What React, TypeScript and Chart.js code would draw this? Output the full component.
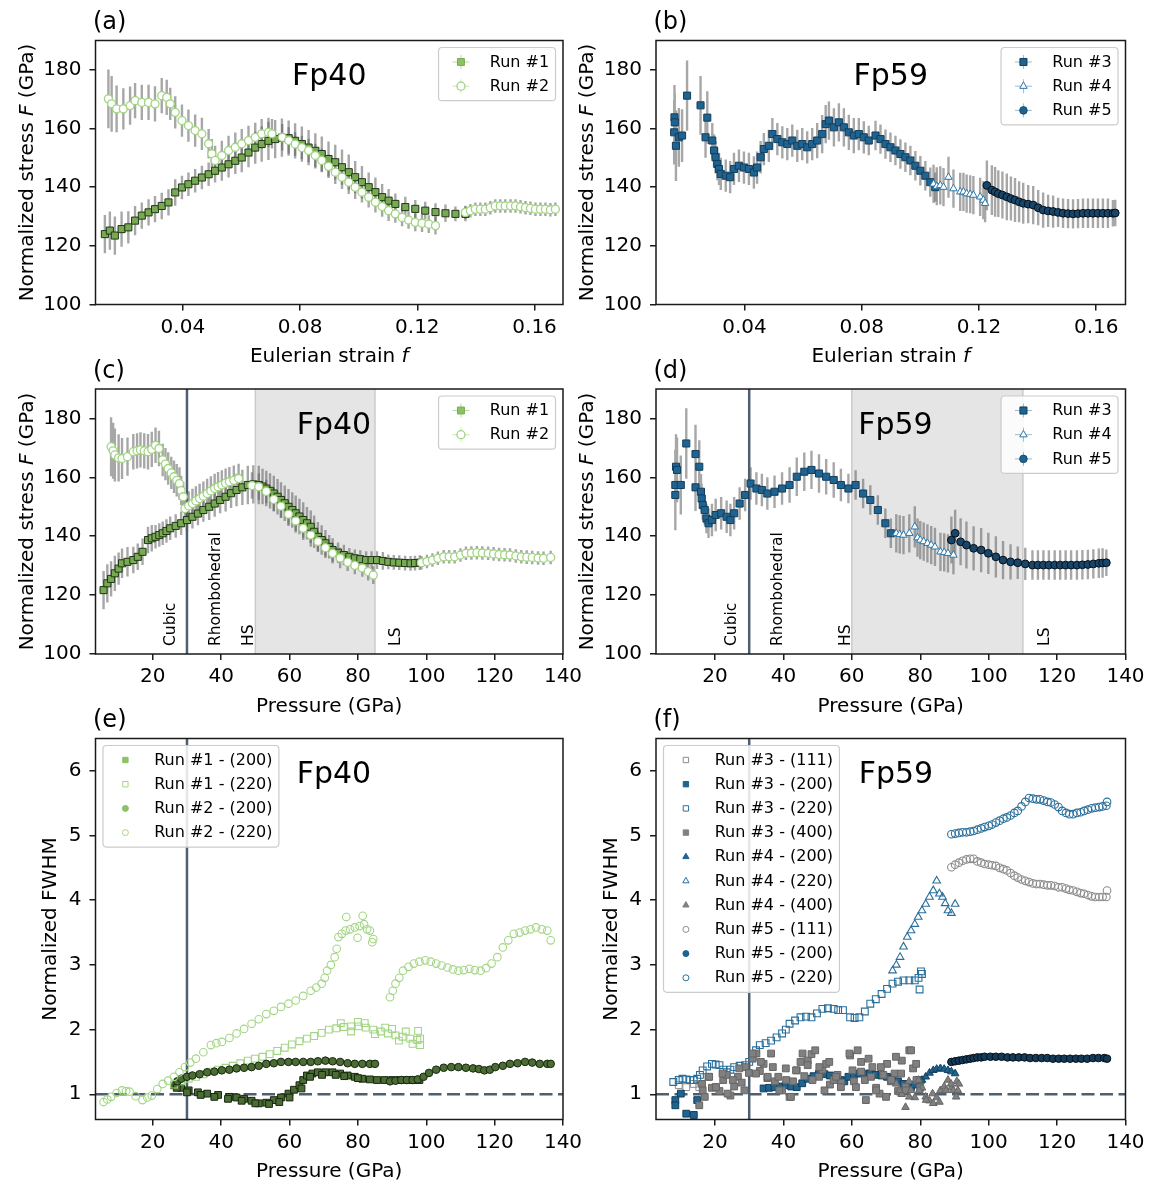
import React, { useEffect, useRef } from 'react';
import { Chart, registerables } from 'chart.js';

Chart.register(...registerables);

const W = 1153;
const H = 1184;
const FAM = "'DejaVu Sans', 'Liberation Sans', Arial, sans-serif";

// ---------------- tick values ----------------
const STRAIN_TICKS = [0.04, 0.08, 0.12, 0.16];
const PRESSURE_TICKS = [20, 40, 60, 80, 100, 120, 140];
const STRESS_TICKS = [100, 120, 140, 160, 180];
const FWHM_TICKS = [1, 2, 3, 4, 5, 6];

// ---------------- annotations ----------------
const CUBIC_RHOMB_P = 30; // GPa
const SPIN_FP40: [number, number] = [50, 85];
const SPIN_FP59: [number, number] = [60, 110];
const PHASES_FP40: [string, number][] = [['Cubic', 26.5], ['Rhombohedral', 39.7], ['HS', 49.3], ['LS', 92.3]];
const PHASES_FP59: [string, number][] = [['Cubic', 26.1], ['Rhombohedral', 39.6], ['HS', 59.5], ['LS', 117.6]];

// ---------------- (a) Fp40: stress vs Eulerian strain [f, F, err] ----------------
const A_RUN1: number[][] = [
  [0.0134, 124.0, 6.5], [0.0151, 125.2, 6.5], [0.0168, 123.5, 6.5], [0.0191, 125.7, 6], [0.0214, 126.3, 5.5],
  [0.0237, 128.6, 5], [0.026, 130.3, 4.5], [0.0283, 131.4, 4.5], [0.0305, 132.5, 4.5], [0.0328, 133.6, 4.5],
  [0.0351, 134.8, 4.5], [0.0374, 138.2, 4.5], [0.0397, 139.9, 4], [0.0419, 141.0, 4], [0.0442, 142.2, 4],
  [0.0465, 143.3, 4], [0.0488, 144.4, 4], [0.051, 145.6, 4], [0.0533, 146.7, 4.5], [0.0556, 147.8, 4.5],
  [0.0579, 149.0, 4.5], [0.0601, 150.1, 5], [0.0624, 151.8, 5], [0.0647, 153.5, 5.5], [0.0669, 154.7, 6],
  [0.0692, 155.8, 6.5], [0.0715, 156.4, 6.5], [0.0738, 156.9, 6.5], [0.0761, 156.7, 6], [0.0783, 155.8, 6],
  [0.0806, 154.7, 6], [0.0829, 153.5, 6], [0.0852, 152.4, 6], [0.0874, 151.3, 6], [0.0897, 149.6, 6],
  [0.092, 148.5, 6], [0.0943, 146.8, 6], [0.0966, 145.1, 6], [0.0988, 143.4, 5.5], [0.1011, 141.7, 5.5],
  [0.1034, 140.0, 5], [0.1057, 138.3, 5], [0.108, 136.6, 4.5], [0.1102, 135.4, 4], [0.1125, 134.3, 3.5],
  [0.1159, 133.2, 3.5], [0.1193, 132.6, 3], [0.1227, 132.0, 3], [0.1262, 131.5, 3], [0.1296, 131.1, 3],
  [0.133, 130.9, 2.5], [0.1364, 130.9, 2.5],
];
const A_RUN2: number[][] = [
  [0.0146, 170.1, 10], [0.0157, 168.4, 9.5], [0.0174, 166.7, 8], [0.0197, 166.7, 7], [0.022, 167.8, 6.5],
  [0.0237, 169.5, 6], [0.026, 168.9, 6], [0.0283, 168.9, 6], [0.0305, 168.4, 6], [0.0328, 171.2, 6],
  [0.0345, 170.6, 6], [0.0357, 168.4, 5.5], [0.0374, 165.5, 5.5], [0.0397, 162.7, 5.5], [0.0419, 161.0, 5.5],
  [0.0442, 159.3, 5.5], [0.0465, 158.2, 5.5], [0.0488, 154.8, 5], [0.0499, 151.4, 5], [0.051, 149.1, 5],
  [0.0533, 150.8, 5], [0.0556, 152.5, 5], [0.0579, 153.6, 5], [0.0601, 154.8, 5], [0.0624, 155.9, 5],
  [0.0647, 157.0, 5], [0.0669, 158.2, 5], [0.0692, 158.7, 5], [0.0704, 158.2, 5], [0.0739, 157.0, 4.5],
  [0.0761, 155.9, 4.5], [0.0783, 154.7, 4], [0.0806, 153.5, 4], [0.0829, 152.5, 4], [0.0852, 150.8, 4],
  [0.0874, 149.1, 4], [0.0897, 147.1, 4], [0.092, 145.1, 4], [0.0943, 143.4, 4], [0.0966, 141.7, 4],
  [0.0988, 140.0, 4], [0.1011, 138.3, 3.5], [0.1034, 136.6, 3.5], [0.1057, 134.9, 3.5], [0.108, 133.4, 3.5],
  [0.1102, 132.0, 3.5], [0.1125, 130.9, 3], [0.1148, 129.7, 3], [0.117, 128.8, 3], [0.1193, 128.0, 3],
  [0.1216, 127.7, 3], [0.1239, 127.4, 3], [0.1262, 126.9, 3],
  [0.1364, 131.4, 2.3], [0.1381, 132.0, 2.3], [0.1398, 132.5, 2.3], [0.1415, 132.5, 2.3], [0.1432, 132.5, 2.3],
  [0.1449, 133.0, 2.3], [0.1466, 133.6, 2.3], [0.1483, 133.6, 2.3], [0.15, 133.6, 2.3], [0.1518, 133.6, 2.3],
  [0.1535, 133.6, 2.3], [0.1552, 133.3, 2.3], [0.1569, 133.0, 2.3], [0.1586, 132.8, 2.3], [0.1603, 132.5, 2.3],
  [0.162, 132.5, 2.3], [0.1637, 132.5, 2.3], [0.1654, 132.3, 2.3], [0.1671, 132.5, 2.3],
];

// ---------------- (b) Fp59: stress vs Eulerian strain [f, F, err] ----------------
const B_RUN3: number[][] = [
  [0.016, 158.7, 11], [0.0161, 163.8, 11], [0.0162, 162.1, 10], [0.0166, 154.1, 12], [0.0176, 157.0, 10],
  [0.0187, 157.6, 9], [0.0204, 171.2, 12], [0.025, 167.9, 10], [0.0267, 157.0, 7], [0.0273, 163.7, 9],
  [0.029, 155.9, 6], [0.0296, 152.5, 5.5], [0.0301, 150.2, 5.5], [0.0307, 147.9, 5.5], [0.0313, 146.2, 5.5],
  [0.0319, 144.5, 5.5], [0.0336, 143.9, 5.5], [0.0351, 143.4, 5.5], [0.0364, 146.2, 5.5], [0.0381, 147.3, 5.5],
  [0.0398, 146.7, 5.5], [0.0415, 146.2, 5.5], [0.0432, 145.0, 5.5], [0.0443, 146.7, 5.5], [0.0455, 150.2, 5.5],
  [0.0466, 153.0, 5.5], [0.0483, 154.1, 5.5], [0.0495, 158.1, 5.5], [0.0512, 156.4, 5.5], [0.0529, 155.3, 5.5],
  [0.0546, 154.7, 5.5], [0.0563, 155.9, 5.5], [0.058, 154.1, 5.5], [0.0597, 154.7, 5.5], [0.0614, 153.6, 5.5],
  [0.0631, 154.7, 5.5], [0.0648, 155.9, 6], [0.0665, 158.1, 6.5], [0.0677, 161.5, 6.5], [0.0688, 162.7, 6.5],
  [0.0705, 160.4, 6.5], [0.0722, 162.1, 6.5], [0.0739, 160.4, 6.5], [0.0756, 158.7, 6], [0.0773, 157.6, 6],
  [0.079, 158.1, 5.5], [0.0807, 157.0, 5.5], [0.0824, 155.9, 5], [0.0847, 157.6, 5], [0.0864, 156.4, 5],
  [0.0881, 154.7, 5], [0.0898, 153.6, 5], [0.0915, 152.5, 5], [0.0932, 151.3, 5], [0.0949, 150.2, 5],
  [0.0966, 149.1, 5], [0.0983, 147.3, 5], [0.1, 145.6, 5], [0.1017, 143.9, 5], [0.1034, 141.7, 5],
  [0.1051, 140.0, 5],
];
const B_RUN4: number[][] = [
  [0.1045, 141.1, 6.5], [0.1056, 140.3, 6.5], [0.1068, 140.6, 6.5], [0.1079, 140.0, 6.5], [0.1096, 143.4, 7],
  [0.1113, 139.5, 6.5], [0.1136, 138.4, 6.5], [0.1147, 138.4, 6.5], [0.1158, 137.8, 6.5], [0.117, 137.6, 6.5],
  [0.1181, 137.3, 6.5], [0.1204, 136.7, 6.5], [0.1215, 135.6, 6.5], [0.1221, 134.5, 6.5],
];
const B_RUN5: number[][] = [
  [0.1227, 140.6, 8.5], [0.1244, 139.0, 8.5], [0.1255, 138.4, 8.5], [0.1266, 137.8, 8], [0.128, 137.3, 8],
  [0.1295, 136.7, 8], [0.1309, 136.1, 7.5], [0.1323, 135.6, 7.5], [0.1337, 135.0, 7], [0.1351, 134.5, 7],
  [0.1368, 134.2, 6.5], [0.1385, 133.9, 6.5], [0.1402, 133.0, 6], [0.1419, 132.2, 6], [0.1436, 131.9, 5.5],
  [0.1453, 131.7, 5.5], [0.147, 131.4, 5], [0.1487, 131.1, 5], [0.1504, 131.0, 5], [0.1521, 130.9, 5],
  [0.1538, 131.0, 5], [0.1555, 131.1, 5], [0.1572, 131.1, 5], [0.1589, 131.1, 5], [0.1606, 131.1, 5],
  [0.1623, 131.1, 5], [0.164, 131.1, 5], [0.1657, 131.1, 4.5], [0.1665, 131.2, 4.5],
];

// ---------------- (c) Fp40: stress vs pressure [P, F, err] ----------------
const C_RUN1: number[][] = [
  [5.6, 121.7, 6.5], [6.7, 124, 6.5], [7.8, 125.5, 6], [8.9, 127.4, 6], [10, 129, 5.5], [11, 130.8, 5],
  [12.6, 131.3, 5], [14.3, 131.9, 4.5], [15.6, 133, 4.5], [17, 134.7, 4.5], [18.6, 138.7, 4.5], [19.7, 139.3, 4.5],
  [20.8, 139.8, 4], [21.9, 140.4, 4], [22.9, 141, 4], [24, 141.8, 4], [25.1, 142.7, 4], [26.7, 143.5, 4],
  [28.3, 144.4, 4], [30, 145.5, 4], [31.6, 146.6, 4], [33.2, 147.7, 4], [34.8, 148.9, 4], [36.5, 150, 4.5],
  [38.1, 151.1, 4.5], [39.7, 152.3, 4.5], [41.3, 153.4, 5], [42.9, 154.6, 5], [44.5, 155.7, 5.5], [46.2, 156.6, 6],
  [47.8, 157.4, 6.5], [49.4, 157.6, 6.5], [51, 157.4, 6.5], [52.1, 156.9, 6], [53.2, 156.2, 6], [54.3, 155.4, 6],
  [55.4, 154.5, 6], [56.5, 153.4, 6], [57.5, 152.3, 6], [58.6, 151.2, 6], [59.7, 150, 6], [60.8, 148.9, 6],
  [61.8, 147.8, 6], [62.9, 146.7, 6], [64, 145.5, 6], [65.1, 144.4, 5.5], [66.2, 143.2, 5.5], [67.2, 141.5, 5.5],
  [68.3, 139.8, 5], [69.4, 138.7, 5], [70.5, 137.6, 4.5], [71.6, 136.4, 4], [72.6, 135.3, 4], [74.2, 134.4, 3.5],
  [75.9, 133.6, 3.5], [77.5, 133, 3], [79.1, 132.5, 3], [80.7, 132.2, 3], [82.4, 131.9, 3], [84, 131.9, 3],
  [85.6, 131.9, 3], [87.3, 131.6, 3], [88.9, 131.3, 2.5], [90.5, 131.1, 2.5], [92.1, 131, 2.5], [93.8, 130.9, 2.5],
  [95.4, 130.8, 2.5], [96.7, 130.9, 2.5], [98.1, 131, 2.5],
];
const C_RUN2: number[][] = [
  [7.8, 170.4, 10], [8.4, 169, 9.5], [8.9, 167.6, 9], [10, 166.6, 8], [11, 166.4, 7], [12.6, 167, 6.5],
  [14.3, 168.7, 6], [15.4, 169, 6], [16.4, 169.3, 6], [17.5, 169, 6], [18.6, 168.7, 6], [19.7, 169.5, 6],
  [20.8, 170.9, 6], [21.8, 169.8, 6], [22.9, 165.9, 5.5], [23.7, 164.5, 5.5], [24.5, 163, 5.5], [25.4, 161.5, 5.5],
  [26.2, 160.2, 5.5], [27, 159, 5.5], [27.8, 157.9, 5.5], [28.3, 155.5, 5], [28.9, 153.4, 5], [29.4, 149.4, 5],
  [30.5, 150.3, 5], [31.6, 151.1, 5], [32.6, 152, 5], [33.7, 152.8, 5], [34.8, 153.6, 5], [35.9, 154.5, 5],
  [37, 155.4, 5], [38.1, 156.2, 5], [39.1, 156.8, 5], [40.2, 157.4, 5], [41.3, 158, 5], [42.4, 158.5, 5],
  [43.7, 159, 5], [45.1, 159.6, 5], [49, 157.2, 4.5], [51, 156.8, 4.5], [53.2, 155.2, 4], [55.4, 152.5, 4],
  [57.5, 150.2, 4], [59.7, 147.5, 4], [61.8, 145.2, 4], [64, 142.7, 4], [66.2, 140.4, 4], [68.3, 138.2, 3.5],
  [70.5, 136.1, 3.5], [72.6, 134.2, 3.5], [74.8, 132.6, 3.5], [77, 131.2, 3], [79.1, 130.1, 3], [81.3, 129.2, 3],
  [83, 128, 3], [84.5, 126.8, 3],
  [98.6, 131, 2.3], [100.2, 131.4, 2.3], [101.8, 131.9, 2.3], [103.4, 132.5, 2.3], [105.1, 133, 2.3],
  [106.7, 133, 2.3], [108.3, 133, 2.3], [110, 133.6, 2.3], [111.6, 134.2, 2.3], [113.2, 134.3, 2.3],
  [114.8, 134.4, 2.3], [116.4, 134.3, 2.3], [118.1, 134.2, 2.3], [119.7, 134, 2.3], [121.3, 133.8, 2.3],
  [122.9, 133.7, 2.3], [124.5, 133.6, 2.3], [126.2, 133.3, 2.3], [127.8, 133, 2.3], [129.4, 132.9, 2.3],
  [131, 132.8, 2.3], [132.7, 132.6, 2.3], [134.3, 132.5, 2.3], [136.4, 132.8, 2.3],
];

// ---------------- (d) Fp59: stress vs pressure [P, F, err] ----------------
const D_RUN3: number[][] = [
  [8.4, 157.4, 12], [8.4, 154, 12], [8.6, 163.6, 11], [8.9, 162.5, 11], [10, 157.4, 10], [11.6, 171.5, 12],
  [14.3, 167.9, 10], [14.3, 156.6, 8], [15.4, 163.6, 9], [15.9, 155.1, 6], [16.1, 152.8, 5], [16.4, 150.6, 5],
  [17, 148.9, 5], [17.5, 146, 5], [18.1, 144.4, 5], [19.1, 145.5, 5.5], [20.2, 147.2, 5.5], [21.8, 147.8, 5.5],
  [23.4, 146.6, 5.5], [24.5, 145.5, 5.5], [25.6, 147.8, 5.5], [27.2, 151.1, 5.5], [28.8, 154, 5.5],
  [30.4, 157.9, 5.5], [32.1, 156.2, 5.5], [33.7, 155.7, 5.5], [35.3, 154.5, 5.5], [37.4, 155.1, 5.5],
  [39.6, 156.2, 5.5], [41.8, 157.4, 6], [43.9, 160.2, 6.5], [46.1, 161.9, 6.5], [48.2, 162.5, 6.5],
  [50.4, 161.3, 6.5], [52.5, 160.2, 6], [54.7, 159.1, 6], [56.8, 157.4, 5.5], [59, 156.2, 5], [61.1, 157.4, 5],
  [63.3, 154.5, 5], [65.4, 152.3, 5], [67.6, 148.9, 5], [69.8, 144.4, 5], [71.4, 141, 5],
];
const D_RUN4: number[][] = [
  [73, 141, 6.5], [74, 140.6, 6.5], [75.1, 140.4, 6.5], [76.8, 141, 6.5], [78.4, 143.2, 7], [79.2, 139.5, 6.5],
  [80, 138.7, 6.5], [81, 138.2, 6.5], [82.1, 137.6, 6.5], [83.2, 137, 6.5], [84.3, 136.4, 6.5], [85.9, 134.7, 6.5],
  [87, 134.5, 6.5], [88.1, 134.2, 6.5], [89.7, 133.6, 6.5],
];
const D_RUN5: number[][] = [
  [89.1, 138.7, 8], [90.2, 141, 8], [91.8, 138.1, 8], [93.5, 137, 8], [95.6, 135.9, 7.5], [97.8, 135.3, 7.5],
  [99.9, 134.2, 7], [102.1, 133, 7], [104.2, 131.9, 6.5], [106.4, 131.3, 6], [108.5, 131, 5.5], [110.7, 130.6, 5.5],
  [112.8, 130.2, 5], [114.4, 130.2, 5], [116, 130.2, 5], [117.6, 130.2, 5], [119.3, 130.2, 5], [120.9, 130.2, 5],
  [122.5, 130.2, 5], [124.1, 130.2, 5], [125.8, 130.2, 5], [127.4, 130.3, 5], [129, 130.4, 5], [130.6, 130.6, 5],
  [132.2, 130.8, 5], [133.3, 130.9, 5], [134.4, 131, 4.5],
];

// ---------------- (e) Fp40: normalized FWHM vs pressure [P, FWHM] ----------------
const E_R1_200: number[][] = [
  [26.2, 1.14], [28.3, 1.1], [30.5, 1.06], [33.2, 1.03], [35.9, 1.01], [39.1, 0.99], [42.4, 0.96], [44.5, 0.95],
  [46.7, 0.93], [48.9, 0.9], [51, 0.86], [53.2, 0.87], [55.4, 0.91], [57.5, 0.95], [59.7, 1.01], [61.3, 1.07],
  [62.9, 1.14], [64, 1.22], [65.1, 1.29], [66.7, 1.32], [68.3, 1.34], [70.5, 1.34], [72.6, 1.34], [74.8, 1.32],
  [77, 1.29], [79.1, 1.27], [81.3, 1.24], [83.5, 1.23], [85.6, 1.22], [87.8, 1.22], [90, 1.22], [92.1, 1.22],
  [94.3, 1.22], [96.2, 1.22], [98, 1.22],
  [27, 1.1], [30, 1.03], [34, 0.99], [38, 0.96], [42, 0.93], [46, 0.9], [50, 0.86], [54, 0.85], [57, 0.88],
  [60, 0.95], [63.5, 1.09], [66, 1.27], [69.5, 1.3], [73.5, 1.3], [76, 1.28], [80, 1.25],
];
const E_R1_220: number[][] = [
  [26.2, 1.15], [28.3, 1.2], [30.5, 1.24], [32.6, 1.27], [34.8, 1.31], [37, 1.35], [39.1, 1.38], [41.3, 1.41],
  [43.4, 1.44], [45.6, 1.48], [47.8, 1.52], [49.9, 1.55], [52.1, 1.58], [54.2, 1.62], [56.4, 1.67], [58.6, 1.72],
  [60.7, 1.77], [62.9, 1.82], [65.1, 1.86], [67.2, 1.9], [69.4, 1.95], [71.5, 2.0], [73.7, 2.02], [75.9, 2.04],
  [78, 2.05], [80.2, 2.05], [82.3, 2.03], [84.5, 2.0], [86.7, 1.97], [88.8, 1.94], [91, 1.91], [93.1, 1.89],
  [95.3, 1.86], [97.4, 1.84], [98.2, 1.86], [98.2, 1.76], [97.6, 1.98], [96, 1.78], [90, 2.01], [80, 2.12],
  [75, 2.1], [78, 1.97], [82, 2.1], [85, 1.93], [88, 2.03], [92, 1.83], [94, 1.97],
];
const E_R2_200: number[][] = [
  [27.2, 1.2], [28.3, 1.24], [30, 1.27], [31.6, 1.29], [33.7, 1.31], [35.9, 1.34], [38, 1.35], [40.2, 1.37],
  [42.4, 1.38], [44.5, 1.4], [46.7, 1.41], [48.9, 1.42], [51, 1.44], [53.2, 1.47], [55.4, 1.48], [57.5, 1.5],
  [59.7, 1.5], [61.8, 1.5], [64, 1.5], [66.2, 1.5], [68.3, 1.51], [70.5, 1.52], [72.6, 1.51], [74.8, 1.5],
  [77, 1.48], [79.1, 1.47], [81.3, 1.47], [83.5, 1.47], [85, 1.47],
  [89.4, 1.2], [91, 1.21], [92.7, 1.22], [94.3, 1.22], [96, 1.22], [97.5, 1.23], [99.2, 1.27], [100.8, 1.33],
  [102.9, 1.38], [105.1, 1.41], [107.3, 1.42], [109.4, 1.42], [111.6, 1.41], [113.7, 1.4], [115.4, 1.39],
  [117, 1.37], [118.6, 1.38], [120.2, 1.42], [122.4, 1.44], [124.5, 1.47], [126.7, 1.48], [128.9, 1.5],
  [131, 1.49], [133.2, 1.47], [135.4, 1.47], [136.4, 1.47],
];
const E_R2_220: number[][] = [
  [5.6, 0.88], [6.7, 0.92], [7.8, 0.96], [9.4, 1.02], [11, 1.06], [12.2, 1.05], [13.2, 1.04], [15, 0.97],
  [17, 0.91], [18.4, 0.95], [19.7, 0.98], [21.3, 1.08], [22.9, 1.16], [24.5, 1.21], [26.2, 1.27], [27.8, 1.34],
  [29.4, 1.42], [31, 1.49], [32.6, 1.55], [34.8, 1.65], [37, 1.76], [38.6, 1.79], [40.2, 1.81], [42.4, 1.87],
  [44.5, 1.94], [46.7, 2.01], [48.9, 2.09], [51, 2.16], [53.2, 2.24], [55.4, 2.29], [57.5, 2.35], [59.7, 2.4],
  [61.8, 2.45], [64, 2.52], [66.2, 2.6], [67.8, 2.65], [69.4, 2.71], [70.3, 2.8], [71, 2.91], [72.1, 3.0],
  [73.2, 3.12], [73.8, 3.25], [74.3, 3.43], [75.3, 3.48], [76.4, 3.53], [77.7, 3.55], [79.1, 3.58], [80.5, 3.6],
  [81.8, 3.63], [82.7, 3.55], [83.5, 3.53], [84.5, 3.4], [76.6, 3.74], [81.4, 3.76], [84.2, 3.35], [79.9, 3.42],
  [89.4, 2.5], [90.2, 2.6], [91, 2.71], [92.1, 2.8], [93.2, 2.91], [94.8, 2.97], [96.4, 3.02], [98, 3.05],
  [99.7, 3.07], [101.3, 3.05], [102.9, 3.02], [104.5, 2.99], [106.2, 2.96], [107.8, 2.93], [109.4, 2.91],
  [111, 2.92], [112.6, 2.94], [114.2, 2.92], [115.9, 2.91], [117.5, 2.95], [119.1, 3.02], [120.8, 3.12],
  [122.4, 3.27], [124, 3.38], [125.6, 3.48], [127.3, 3.5], [128.9, 3.53], [130.5, 3.55], [132.1, 3.58],
  [133.8, 3.55], [135.4, 3.53], [136.4, 3.38],
];

// ---------------- (f) Fp59: normalized FWHM vs pressure [P, FWHM] ----------------
const F_R3_111: number[][] = [[9.4, 1.14], [11.6, 1.11], [13.8, 1.16], [15.4, 1.11]];
const F_R3_200: number[][] = [
  [8.4, 0.91], [8.4, 0.83], [10, 1.01], [11.6, 0.7], [13.8, 0.68], [14.8, 0.91],
  [34.2, 1.09], [35.8, 1.1], [37.4, 1.11], [39, 1.12], [40.7, 1.14], [42.3, 1.12], [43.9, 1.11], [45.5, 1.17],
  [47.1, 1.24], [48.8, 1.28], [50.4, 1.32], [52, 1.31], [53.6, 1.29], [55.2, 1.25], [56.8, 1.22], [57.8, 1.2],
  [59, 1.27], [60.6, 1.3], [62.2, 1.32], [63.8, 1.32], [65.4, 1.32], [67, 1.3], [68.7, 1.29], [70.3, 1.27],
  [71.9, 1.24], [73.5, 1.2], [75.1, 1.16], [76.2, 1.13], [77.3, 1.11], [78.4, 1.15], [79.5, 1.22],
];
const F_R3_220: number[][] = [
  [7.8, 1.19], [9.4, 1.22], [10.5, 1.24], [11.6, 1.23], [12.7, 1.22], [13.8, 1.22], [14.8, 1.24], [15.6, 1.3],
  [16.4, 1.37], [17.7, 1.43], [19.1, 1.47], [20.2, 1.46], [21.3, 1.45], [22.4, 1.38], [23.4, 1.34], [24.5, 1.38],
  [25.6, 1.42], [27.2, 1.44], [28.8, 1.45], [30, 1.5], [31, 1.58], [32, 1.68], [33.1, 1.76], [34.8, 1.79],
  [36.4, 1.83], [38, 1.88], [39.6, 1.94], [40.7, 2.0], [41.8, 2.09], [43.4, 2.14], [45, 2.19], [46.6, 2.2],
  [48.2, 2.19], [49.8, 2.25], [51.4, 2.32], [53, 2.33], [54.7, 2.32], [56, 2.3], [57.4, 2.3],
  [59.5, 2.19], [60.8, 2.18], [62.2, 2.19], [63.8, 2.28], [65.4, 2.4], [67, 2.47], [68.7, 2.55], [70.3, 2.63],
  [71.9, 2.71], [73.5, 2.74], [75.1, 2.76], [76.8, 2.76], [78.4, 2.76], [79.5, 2.8], [80.5, 2.86], [79.8, 2.62],
  [80.2, 2.9],
];
const F_R3_400: number[][] = [
  [15.4, 0.83], [16.2, 1.16], [17, 0.96], [18.1, 1.27], [19.1, 1.1], [20.2, 1.11], [21.3, 1.05], [22.4, 1.22],
  [23.4, 1.3], [24.5, 0.98], [25.6, 1.12], [26.7, 1.27], [27.8, 1.18], [28.8, 1.42], [29.9, 1.33], [31, 1.55],
  [32.1, 1.63], [33.1, 1.36], [34.2, 1.47], [35.3, 1.25], [36.4, 1.63], [37.5, 1.2], [38.5, 1.27], [39.6, 1.06],
  [40.7, 1.4], [41.8, 0.96], [42.8, 1.2], [43.9, 1.37], [45, 1.5], [46.1, 1.28], [47.1, 1.52], [48.2, 1.62],
  [49.3, 1.68], [50.4, 1.27], [51.4, 1.38], [52.5, 1.47], [53.6, 1.15], [54.7, 1.22], [55.8, 1.3], [56.9, 1.18],
  [59.5, 1.6], [60.6, 1.2], [61.7, 1.68], [62.7, 1.35], [63.8, 1.22], [64.9, 1.55], [66, 1.42], [67.1, 1.1],
  [68.1, 1.01], [69.2, 1.3], [70.3, 1.47], [71.4, 1.2], [72.5, 1.32], [73.5, 1.05], [74.6, 1.52], [75.7, 1.12],
  [76.8, 1.68], [77.9, 1.4], [78.9, 1.22], [80, 1.1],
  [16.4, 1.06], [18.3, 1.27], [20.3, 1.11], [22.2, 1.32], [23.7, 1.01], [25.2, 1.22], [27.1, 1.4], [28.6, 1.06],
  [31, 1.63], [32, 1.32], [33.4, 1.5], [35.4, 1.27], [36.9, 1.42], [38.8, 1.06], [40.8, 1.22], [42.2, 0.96],
  [43.7, 1.37], [45.6, 1.63], [47.1, 1.45], [48.5, 1.22], [50.5, 1.42], [52, 1.06], [53.4, 1.5], [55.4, 1.27],
  [56.8, 1.11], [59.3, 1.63], [60.2, 1.37], [61.2, 1.11], [62.7, 1.5], [64.1, 0.91], [65.6, 1.27], [67.1, 1.06],
  [68.5, 1.42], [70, 0.96], [71.5, 1.22], [72.9, 1.58], [74.4, 1.32], [75.8, 1.06], [77.3, 1.68], [78.8, 1.47],
  [80.2, 1.22],
];
const F_R4_200: number[][] = [
  [80.5, 1.22], [81.6, 1.27], [82.7, 1.33], [83.8, 1.37], [84.8, 1.39], [85.9, 1.4], [87, 1.39], [88.1, 1.37],
  [89.1, 1.35], [90.2, 1.32],
];
const F_R4_220: number[][] = [
  [71.9, 2.91], [73, 3.0], [74.1, 3.12], [75.1, 3.28], [76.2, 3.43], [77.3, 3.53], [78.4, 3.63], [79.4, 3.74],
  [80.5, 3.84], [81.6, 3.94], [82.7, 4.05], [83.8, 4.15], [84.8, 4.3], [85.6, 4.1], [86.5, 4.05], [87.3, 3.95],
  [88.1, 3.84], [89.1, 3.8], [90.2, 3.94],
];
const F_R4_400: number[][] = [
  [73, 1.16], [74.6, 1.0], [75.7, 0.8], [76.7, 1.2], [77.3, 1.06], [78.4, 0.95], [79.5, 1.22], [80.5, 1.1],
  [81.6, 0.96], [82.7, 0.9], [83.8, 0.86], [84.8, 0.95], [85.9, 1.06], [87, 1.12], [88.1, 1.22], [89.1, 1.1],
  [89.7, 1.06], [90.7, 1.2], [91.3, 1.16],
  [73.9, 1.06], [76.8, 0.96], [79.7, 1.06], [81.7, 0.91], [83.6, 1.01], [85.6, 0.88], [87.5, 1.06], [89, 1.16],
  [90.5, 0.96], [91, 1.06],
];
const F_R5_111: number[][] = [
  [89.1, 4.51], [90.2, 4.55], [91.3, 4.58], [92.4, 4.61], [93.5, 4.63], [94.6, 4.64], [95.6, 4.64], [96.7, 4.6],
  [97.8, 4.58], [98.8, 4.56], [100, 4.55], [101, 4.54], [102.1, 4.53], [103.2, 4.5], [104.3, 4.48], [105.3, 4.46],
  [106.4, 4.42], [107.5, 4.38], [108.5, 4.35], [109.6, 4.32], [110.7, 4.3], [111.8, 4.28], [112.9, 4.26],
  [114, 4.25], [115, 4.25], [116.1, 4.24], [117.2, 4.23], [118.2, 4.23], [119.3, 4.22], [120.4, 4.2],
  [121.5, 4.2], [122.6, 4.18], [123.6, 4.16], [124.7, 4.15], [125.8, 4.13], [126.9, 4.11], [127.9, 4.1],
  [129, 4.08], [130.1, 4.06], [131.2, 4.05], [132.3, 4.05], [133.3, 4.05], [134.4, 4.05], [134.6, 4.15],
];
const F_R5_200: number[][] = [
  [89.1, 1.5], [90.2, 1.51], [91.3, 1.52], [92.4, 1.53], [93.5, 1.54], [94.6, 1.55], [95.6, 1.56], [96.7, 1.57],
  [97.8, 1.57], [98.8, 1.58], [100.5, 1.58], [102.1, 1.58], [103.8, 1.58], [105.5, 1.57], [107.1, 1.57],
  [108.8, 1.57], [110.5, 1.57], [112.1, 1.56], [113.8, 1.56], [115.5, 1.56], [117.1, 1.56], [118.8, 1.55],
  [120.5, 1.55], [122.1, 1.55], [123.8, 1.55], [125.5, 1.55], [127.1, 1.55], [128.8, 1.55], [130.5, 1.56],
  [132.1, 1.56], [133.8, 1.56], [134.6, 1.55],
];
const F_R5_220: number[][] = [
  [89.1, 5.02], [90.2, 5.03], [91.3, 5.04], [92.4, 5.05], [93.5, 5.05], [94.6, 5.06], [95.6, 5.07], [96.7, 5.09],
  [97.8, 5.11], [98.8, 5.13], [100, 5.15], [101, 5.17], [102.1, 5.2], [103.2, 5.23], [104.3, 5.26], [105.3, 5.28],
  [106.4, 5.31], [107.5, 5.35], [108.5, 5.38], [109.6, 5.45], [110.7, 5.52], [111.8, 5.58], [112.9, 5.57],
  [114, 5.56], [115, 5.56], [116.1, 5.54], [117.2, 5.52], [118.2, 5.51], [119.3, 5.48], [120.4, 5.44],
  [121.5, 5.38], [122.6, 5.35], [123.6, 5.33], [124.7, 5.33], [125.8, 5.35], [126.9, 5.36], [127.9, 5.38],
  [129, 5.4], [130.1, 5.42], [131.2, 5.43], [132.3, 5.44], [133.3, 5.45], [134.4, 5.46], [134.6, 5.52],
];

// ---------------- styles ----------------
type Shape = 'rect' | 'circle' | 'triangle';
interface MStyle { shape: Shape; r: number; fill: string; stroke: string; bw: number }
interface Series { label: string; pts: number[][]; style: MStyle; leg?: MStyle; errColor?: string }
interface Seg { t: string; it?: boolean }
interface Panel {
  key: string;
  letter: string;
  title: string;
  titleFrac: number;
  area: { l: number; t: number; r: number; b: number };
  x: [number, number];
  y: [number, number];
  xTicks: number[];
  yTicks: number[];
  xDec: number;
  xLabel: Seg[];
  yLabel: Seg[];
  yLabelOff: number;
  series: Series[];
  legendSide: 'left' | 'right';
  errLegend: boolean;
  vline?: number;
  hline?: number;
  shade?: [number, number];
  phases?: [string, number][];
}

const NONE = 'rgba(0,0,0,0)';
const ERR_GRAY = 'rgba(95,95,95,0.55)';
const SLATE = '#4d5f71';

const S_R1: MStyle = { shape: 'rect', r: 5, fill: '#78aa53', stroke: '#203616', bw: 1 };
const S_R1_LEG: MStyle = { shape: 'rect', r: 4.9, fill: '#8cc265', stroke: '#78ad52', bw: 1 };
const S_R2: MStyle = { shape: 'circle', r: 4, fill: '#ffffff', stroke: '#a0d480', bw: 1.3 };
const S_R3: MStyle = { shape: 'rect', r: 5, fill: '#1f6391', stroke: '#123f5d', bw: 1 };
const S_R4: MStyle = { shape: 'triangle', r: 4.3, fill: '#ffffff', stroke: '#2c77aa', bw: 1 };
const S_R5: MStyle = { shape: 'circle', r: 3.9, fill: '#17466a', stroke: '#050f17', bw: 1 };
const S_R5_LEG: MStyle = { shape: 'circle', r: 3.8, fill: '#1f6391', stroke: '#1a4d70', bw: 1 };

const G_DARK_FILL = '#4b6c34';
const G_DARK_EDGE = '#17270e';
const G_LEG = '#8cc265';
const G_LIGHT = '#a3d684';
const BLUE = '#1f6391';
const BLUE_EDGE = '#2a6f9c';
const GRAY = '#808080';

const stressLabel: Seg[] = [{ t: 'Normalized stress ' }, { t: 'F', it: true }, { t: ' (GPa)' }];
const strainLabel: Seg[] = [{ t: 'Eulerian strain ' }, { t: 'f', it: true }];
const pressureLabel: Seg[] = [{ t: 'Pressure (GPa)' }];
const fwhmLabel: Seg[] = [{ t: 'Normalized FWHM' }];

const AREA_L = { l: 95.5, r: 563 };
const AREA_R = { l: 656, r: 1125.5 };
const ROW1 = { t: 40.5, b: 304.5 };
const ROW2 = { t: 389, b: 654 };
const ROW3 = { t: 738.5, b: 1119.5 };

const PANELS: Panel[] = [
  {
    key: 'a', letter: '(a)', title: 'Fp40', titleFrac: 0.5, area: { ...AREA_L, ...ROW1 },
    x: [0.0102, 0.1697], y: [100, 190], xTicks: STRAIN_TICKS, yTicks: STRESS_TICKS, xDec: 2,
    xLabel: strainLabel, yLabel: stressLabel, yLabelOff: 63, legendSide: 'right', errLegend: true,
    series: [
      { label: 'Run #1', pts: A_RUN1, style: S_R1, leg: S_R1_LEG, errColor: G_LEG },
      { label: 'Run #2', pts: A_RUN2, style: S_R2, errColor: '#a3d584' },
    ],
  },
  {
    key: 'b', letter: '(b)', title: 'Fp59', titleFrac: 0.5, area: { ...AREA_R, ...ROW1 },
    x: [0.0098, 0.17], y: [100, 190], xTicks: STRAIN_TICKS, yTicks: STRESS_TICKS, xDec: 2,
    xLabel: strainLabel, yLabel: stressLabel, yLabelOff: 63, legendSide: 'right', errLegend: true,
    series: [
      { label: 'Run #3', pts: B_RUN3, style: S_R3, errColor: '#5b8db3' },
      { label: 'Run #4', pts: B_RUN4, style: S_R4, errColor: '#5b8db3' },
      { label: 'Run #5', pts: B_RUN5, style: S_R5, leg: S_R5_LEG, errColor: '#5b8db3' },
    ],
  },
  {
    key: 'c', letter: '(c)', title: 'Fp40', titleFrac: 0.51, area: { ...AREA_L, ...ROW2 },
    x: [3.24, 140], y: [100, 190], xTicks: PRESSURE_TICKS, yTicks: STRESS_TICKS, xDec: 0,
    xLabel: pressureLabel, yLabel: stressLabel, yLabelOff: 63, legendSide: 'right', errLegend: true,
    vline: CUBIC_RHOMB_P, shade: SPIN_FP40, phases: PHASES_FP40,
    series: [
      { label: 'Run #1', pts: C_RUN1, style: S_R1, leg: S_R1_LEG, errColor: G_LEG },
      { label: 'Run #2', pts: C_RUN2, style: S_R2, errColor: '#a3d584' },
    ],
  },
  {
    key: 'd', letter: '(d)', title: 'Fp59', titleFrac: 0.51, area: { ...AREA_R, ...ROW2 },
    x: [2.75, 140], y: [100, 190], xTicks: PRESSURE_TICKS, yTicks: STRESS_TICKS, xDec: 0,
    xLabel: pressureLabel, yLabel: stressLabel, yLabelOff: 63, legendSide: 'right', errLegend: true,
    vline: CUBIC_RHOMB_P, shade: SPIN_FP59, phases: PHASES_FP59,
    series: [
      { label: 'Run #3', pts: D_RUN3, style: S_R3, errColor: '#5b8db3' },
      { label: 'Run #4', pts: D_RUN4, style: S_R4, errColor: '#5b8db3' },
      { label: 'Run #5', pts: D_RUN5, style: S_R5, leg: S_R5_LEG, errColor: '#5b8db3' },
    ],
  },
  {
    key: 'e', letter: '(e)', title: 'Fp40', titleFrac: 0.51, area: { ...AREA_L, ...ROW3 },
    x: [3.24, 140], y: [0.61, 6.5], xTicks: PRESSURE_TICKS, yTicks: FWHM_TICKS, xDec: 0,
    xLabel: pressureLabel, yLabel: fwhmLabel, yLabelOff: 40, legendSide: 'left', errLegend: false,
    vline: CUBIC_RHOMB_P, hline: 1,
    series: [
      { label: 'Run #1 - (200)', pts: E_R1_200, style: { shape: 'rect', r: 4.8, fill: G_DARK_FILL, stroke: G_DARK_EDGE, bw: 1 }, leg: { shape: 'rect', r: 3.8, fill: G_LEG, stroke: G_LEG, bw: 1 } },
      { label: 'Run #1 - (220)', pts: E_R1_220, style: { shape: 'rect', r: 4.8, fill: NONE, stroke: G_LIGHT, bw: 1.1 }, leg: { shape: 'rect', r: 3.8, fill: NONE, stroke: G_LIGHT, bw: 1 } },
      { label: 'Run #2 - (200)', pts: E_R2_200, style: { shape: 'circle', r: 3.8, fill: G_DARK_FILL, stroke: G_DARK_EDGE, bw: 1 }, leg: { shape: 'circle', r: 3, fill: G_LEG, stroke: G_LEG, bw: 1 } },
      { label: 'Run #2 - (220)', pts: E_R2_220, style: { shape: 'circle', r: 3.8, fill: NONE, stroke: G_LIGHT, bw: 1.1 }, leg: { shape: 'circle', r: 3, fill: NONE, stroke: G_LIGHT, bw: 1 } },
    ],
  },
  {
    key: 'f', letter: '(f)', title: 'Fp59', titleFrac: 0.511, area: { ...AREA_R, ...ROW3 },
    x: [2.75, 140], y: [0.61, 6.5], xTicks: PRESSURE_TICKS, yTicks: FWHM_TICKS, xDec: 0,
    xLabel: pressureLabel, yLabel: fwhmLabel, yLabelOff: 39, legendSide: 'left', errLegend: false,
    vline: CUBIC_RHOMB_P, hline: 1,
    series: [
      { label: 'Run #3 - (111)', pts: F_R3_111, style: { shape: 'rect', r: 4.8, fill: NONE, stroke: '#8c8c8c', bw: 1 }, leg: { shape: 'rect', r: 3.8, fill: NONE, stroke: '#8c8c8c', bw: 1 } },
      { label: 'Run #3 - (200)', pts: F_R3_200, style: { shape: 'rect', r: 4.8, fill: BLUE, stroke: '#123f5d', bw: 1 }, leg: { shape: 'rect', r: 3.8, fill: BLUE, stroke: BLUE, bw: 1 } },
      { label: 'Run #3 - (220)', pts: F_R3_220, style: { shape: 'rect', r: 4.8, fill: NONE, stroke: BLUE_EDGE, bw: 1.1 }, leg: { shape: 'rect', r: 3.8, fill: NONE, stroke: BLUE_EDGE, bw: 1 } },
      { label: 'Run #3 - (400)', pts: F_R3_400, style: { shape: 'rect', r: 4.8, fill: GRAY, stroke: '#666666', bw: 1 }, leg: { shape: 'rect', r: 3.8, fill: GRAY, stroke: GRAY, bw: 1 } },
      { label: 'Run #4 - (200)', pts: F_R4_200, style: { shape: 'triangle', r: 4.4, fill: BLUE, stroke: '#123f5d', bw: 1 }, leg: { shape: 'triangle', r: 3.6, fill: BLUE, stroke: BLUE, bw: 1 } },
      { label: 'Run #4 - (220)', pts: F_R4_220, style: { shape: 'triangle', r: 4.4, fill: NONE, stroke: BLUE_EDGE, bw: 1.1 }, leg: { shape: 'triangle', r: 3.6, fill: NONE, stroke: BLUE_EDGE, bw: 1 } },
      { label: 'Run #4 - (400)', pts: F_R4_400, style: { shape: 'triangle', r: 4.4, fill: GRAY, stroke: '#666666', bw: 1 }, leg: { shape: 'triangle', r: 3.6, fill: GRAY, stroke: GRAY, bw: 1 } },
      { label: 'Run #5 - (111)', pts: F_R5_111, style: { shape: 'circle', r: 3.8, fill: NONE, stroke: '#8c8c8c', bw: 1.1 }, leg: { shape: 'circle', r: 3, fill: NONE, stroke: '#8c8c8c', bw: 1 } },
      { label: 'Run #5 - (200)', pts: F_R5_200, style: { shape: 'circle', r: 3.8, fill: '#143a57', stroke: '#050f17', bw: 1 }, leg: { shape: 'circle', r: 3, fill: BLUE, stroke: BLUE, bw: 1 } },
      { label: 'Run #5 - (220)', pts: F_R5_220, style: { shape: 'circle', r: 3.8, fill: NONE, stroke: BLUE_EDGE, bw: 1.1 }, leg: { shape: 'circle', r: 3, fill: NONE, stroke: BLUE_EDGE, bw: 1 } },
    ],
  },
];

// ---------------- drawing helpers ----------------
function fontStr(size: number, italic?: boolean) {
  return `${italic ? 'italic ' : ''}${size}px ${FAM}`;
}

function segWidth(ctx: CanvasRenderingContext2D, segs: Seg[], size: number) {
  let w = 0;
  for (const s of segs) {
    ctx.font = fontStr(size, s.it);
    w += ctx.measureText(s.t).width;
  }
  return w;
}

function drawSegs(ctx: CanvasRenderingContext2D, segs: Seg[], size: number, x: number, y: number) {
  let cx = x;
  for (const s of segs) {
    ctx.font = fontStr(size, s.it);
    ctx.fillText(s.t, cx, y);
    cx += ctx.measureText(s.t).width;
  }
}

function drawMarker(ctx: CanvasRenderingContext2D, s: MStyle, x: number, y: number) {
  ctx.beginPath();
  if (s.shape === 'circle') {
    ctx.arc(x, y, s.r, 0, Math.PI * 2);
  } else if (s.shape === 'rect') {
    const h = s.r * Math.SQRT1_2;
    ctx.rect(x - h, y - h, 2 * h, 2 * h);
  } else {
    let a = 0;
    ctx.moveTo(x + Math.sin(a) * s.r, y - Math.cos(a) * s.r);
    a += (2 * Math.PI) / 3;
    ctx.lineTo(x + Math.sin(a) * s.r, y - Math.cos(a) * s.r);
    a += (2 * Math.PI) / 3;
    ctx.lineTo(x + Math.sin(a) * s.r, y - Math.cos(a) * s.r);
    ctx.closePath();
  }
  if (s.fill !== NONE) {
    ctx.fillStyle = s.fill;
    ctx.fill();
  }
  if (s.bw > 0) {
    ctx.lineWidth = s.bw;
    ctx.strokeStyle = s.stroke;
    ctx.stroke();
  }
}

function makeDecor(p: Panel) {
  return {
    id: 'decor_' + p.key,
    beforeDatasetsDraw(chart: any) {
      const { ctx, chartArea: ca } = chart;
      const xs = chart.scales.x;
      const ys = chart.scales.y;
      ctx.save();
      ctx.beginPath();
      ctx.rect(ca.left, ca.top, ca.right - ca.left, ca.bottom - ca.top);
      ctx.clip();
      if (p.shade) {
        const x0 = xs.getPixelForValue(p.shade[0]);
        const x1 = xs.getPixelForValue(p.shade[1]);
        ctx.fillStyle = '#e5e5e5';
        ctx.fillRect(x0, ca.top, x1 - x0, ca.bottom - ca.top);
        ctx.strokeStyle = '#cbcbcb';
        ctx.lineWidth = 1.5;
        ctx.beginPath();
        ctx.moveTo(x0, ca.top); ctx.lineTo(x0, ca.bottom);
        ctx.moveTo(x1, ca.top); ctx.lineTo(x1, ca.bottom);
        ctx.stroke();
      }
      if (p.hline !== undefined) {
        const yy = ys.getPixelForValue(p.hline);
        ctx.strokeStyle = SLATE;
        ctx.lineWidth = 2.5;
        ctx.setLineDash([13, 5.5]);
        ctx.beginPath();
        ctx.moveTo(ca.left, yy); ctx.lineTo(ca.right, yy);
        ctx.stroke();
        ctx.setLineDash([]);
      }
      if (p.vline !== undefined) {
        const xx = xs.getPixelForValue(p.vline);
        ctx.strokeStyle = SLATE;
        ctx.lineWidth = 2.5;
        ctx.beginPath();
        ctx.moveTo(xx, ca.top); ctx.lineTo(xx, ca.bottom);
        ctx.stroke();
      }
      // error bars
      ctx.strokeStyle = ERR_GRAY;
      ctx.lineWidth = 2.4;
      for (const s of p.series) {
        ctx.beginPath();
        for (const q of s.pts) {
          if (q.length < 3) continue;
          const px = xs.getPixelForValue(q[0]);
          ctx.moveTo(px, ys.getPixelForValue(q[1] - q[2]));
          ctx.lineTo(px, ys.getPixelForValue(q[1] + q[2]));
        }
        ctx.stroke();
      }
      ctx.restore();
    },
    afterDraw(chart: any) {
      const { ctx, chartArea: ca } = chart;
      const xs = chart.scales.x;
      ctx.save();
      // frame
      ctx.strokeStyle = '#1a1a1a';
      ctx.lineWidth = 1.5;
      ctx.strokeRect(ca.left, ca.top, ca.right - ca.left, ca.bottom - ca.top);
      ctx.fillStyle = '#000';
      // phase labels
      if (p.phases) {
        ctx.font = fontStr(15.5);
        ctx.textAlign = 'left';
        ctx.textBaseline = 'alphabetic';
        for (const [txt, xv] of p.phases) {
          const px = xs.getPixelForValue(xv);
          ctx.save();
          ctx.translate(px, ca.bottom - 8);
          ctx.rotate(-Math.PI / 2);
          ctx.fillText(txt, 0, 0);
          ctx.restore();
        }
      }
      // panel letter
      ctx.font = fontStr(24);
      ctx.textAlign = 'left';
      ctx.textBaseline = 'alphabetic';
      ctx.fillText(p.letter, ca.left - 2.5, ca.top - 11.5);
      // title
      ctx.font = fontStr(30);
      ctx.textAlign = 'center';
      ctx.fillText(p.title, ca.left + p.titleFrac * (ca.right - ca.left), ca.top + 44.5);
      // x label
      ctx.textAlign = 'left';
      const xw = segWidth(ctx, p.xLabel, 20);
      drawSegs(ctx, p.xLabel, 20, (ca.left + ca.right) / 2 - xw / 2, ca.bottom + 57.5);
      // y label
      const yw = segWidth(ctx, p.yLabel, 20);
      ctx.save();
      ctx.translate(ca.left - p.yLabelOff, (ca.top + ca.bottom) / 2);
      ctx.rotate(-Math.PI / 2);
      drawSegs(ctx, p.yLabel, 20, -yw / 2, 0);
      ctx.restore();
      // legend
      const fs = 16;
      ctx.font = fontStr(fs);
      const tw = Math.max(...p.series.map((s) => ctx.measureText(s.label).width));
      const pad = 6.4, handle = 32, htp = 12.8, rowH = 16.2, gap = 8;
      const n = p.series.length;
      const lw = pad + handle + htp + tw + pad;
      const lh = 2 * pad + n * rowH + (n - 1) * gap;
      const left = p.legendSide === 'right' ? ca.right - 7.5 - lw : ca.left + 7.5;
      const top = ca.top + 7;
      ctx.beginPath();
      if ((ctx as any).roundRect) (ctx as any).roundRect(left, top, lw, lh, 3.5);
      else ctx.rect(left, top, lw, lh);
      ctx.fillStyle = 'rgba(255,255,255,0.85)';
      ctx.fill();
      ctx.strokeStyle = '#cccccc';
      ctx.lineWidth = 1.2;
      ctx.stroke();
      p.series.forEach((s, i) => {
        const cy = top + pad + rowH / 2 + i * (rowH + gap);
        const hx = left + pad + handle / 2;
        if (p.errLegend) {
          ctx.save();
          ctx.globalAlpha = 0.6;
          ctx.strokeStyle = s.errColor || '#888';
          ctx.lineWidth = 1;
          ctx.beginPath();
          ctx.moveTo(hx - 8.5, cy); ctx.lineTo(hx + 8.5, cy);
          ctx.moveTo(hx, cy - 7); ctx.lineTo(hx, cy + 7);
          ctx.stroke();
          ctx.restore();
        }
        drawMarker(ctx, s.leg || s.style, hx, cy);
        ctx.fillStyle = '#000';
        ctx.font = fontStr(fs);
        ctx.textAlign = 'left';
        ctx.textBaseline = 'middle';
        ctx.fillText(s.label, left + pad + handle + htp, cy + 0.5);
      });
      ctx.restore();
    },
  };
}

function buildConfig(p: Panel): any {
  const WY = 80;
  const HX = 50;
  const datasets = p.series.map((s, i) => ({
    label: s.label,
    data: s.pts.map((q) => ({ x: q[0], y: q[1] })),
    showLine: false,
    order: -i,
    pointStyle: s.style.shape,
    pointRadius: s.style.r,
    pointHoverRadius: s.style.r,
    backgroundColor: s.style.fill,
    borderColor: s.style.stroke,
    borderWidth: s.style.bw,
    pointBackgroundColor: s.style.fill,
    pointBorderColor: s.style.stroke,
    pointBorderWidth: s.style.bw,
  }));
  const tickFont = { family: FAM, size: 20 };
  const gridCommon = {
    display: true,
    drawOnChartArea: false,
    drawTicks: true,
    tickLength: 6,
    color: '#1a1a1a',
    lineWidth: 1.5,
  };
  return {
    type: 'scatter',
    data: { datasets },
    options: {
      animation: false,
      responsive: false,
      maintainAspectRatio: false,
      events: [],
      layout: {
        autoPadding: false,
        padding: { left: p.area.l - WY, top: p.area.t, right: W - p.area.r, bottom: H - p.area.b - HX },
      },
      plugins: { legend: { display: false }, tooltip: { enabled: false }, title: { display: false } },
      scales: {
        x: {
          type: 'linear',
          position: 'bottom',
          min: p.x[0],
          max: p.x[1],
          afterFit: (s: any) => { s.height = HX; s.paddingLeft = 0; s.paddingRight = 0; },
          afterBuildTicks: (s: any) => { s.ticks = p.xTicks.map((v) => ({ value: v })); },
          ticks: {
            font: tickFont, color: '#000', padding: 5, maxRotation: 0, autoSkip: false,
            callback: (v: any) => Number(v).toFixed(p.xDec),
          },
          grid: gridCommon,
          border: { display: false },
        },
        y: {
          type: 'linear',
          position: 'left',
          min: p.y[0],
          max: p.y[1],
          afterFit: (s: any) => { s.width = WY; s.paddingTop = 0; s.paddingBottom = 0; },
          afterBuildTicks: (s: any) => { s.ticks = p.yTicks.map((v) => ({ value: v })); },
          ticks: {
            font: tickFont, color: '#000', padding: 8, autoSkip: false,
            callback: (v: any) => String(v),
          },
          grid: gridCommon,
          border: { display: false },
        },
      },
    },
    plugins: [makeDecor(p)],
  };
}

function PanelChart({ p }: { p: Panel }) {
  const ref = useRef<HTMLCanvasElement>(null);
  useEffect(() => {
    if (!ref.current) return;
    const chart = new Chart(ref.current, buildConfig(p));
    return () => chart.destroy();
  }, [p]);
  return (
    <canvas
      ref={ref}
      width={W}
      height={H}
      style={{ position: 'absolute', left: 0, top: 0, width: W, height: H }}
    />
  );
}

export default function App() {
  useEffect(() => {
    document.body.style.margin = '0';
  }, []);
  return (
    <div style={{ position: 'absolute', left: 0, top: 0, width: W, height: H, background: '#fff', overflow: 'hidden' }}>
      {PANELS.map((p) => (
        <PanelChart key={p.key} p={p} />
      ))}
    </div>
  );
}
